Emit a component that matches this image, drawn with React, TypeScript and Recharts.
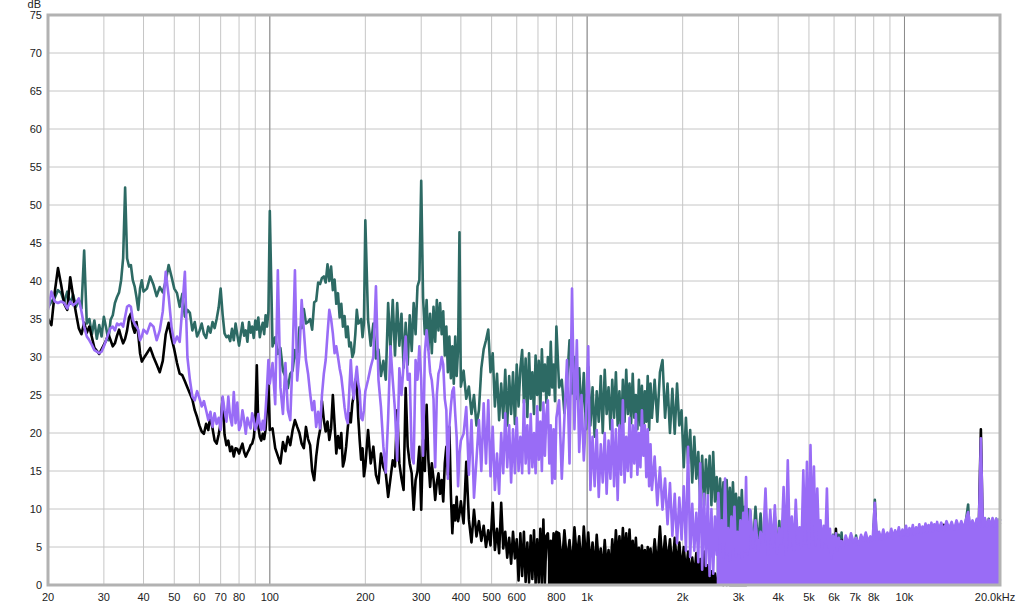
import {
  Area,
  CartesianGrid,
  ComposedChart,
  Line,
  ReferenceArea,
  ReferenceLine,
  XAxis,
  YAxis,
} from "recharts";

// frequency bins (Hz), one row per bin
const freqs = [
  // 20-40
  20, 20.5, 21, 21.5, 22, 22.5, 23, 23.5, 24, 24.5,
  25, 25.5, 26, 26.5, 27, 27.5, 28, 28.5, 29, 29.5,
  30, 30.5, 31, 31.5, 32, 32.5, 33, 33.5, 34, 34.5,
  35, 35.5, 36, 36.5, 37, 37.5, 38, 38.5, 39, 39.5,
  40,
  // 41-100
  41, 42, 43, 44, 45, 46, 47, 48, 49, 50,
  51, 52, 53, 54, 55, 56, 57, 58, 59, 60,
  61, 62, 63, 64, 65, 66, 67, 68, 69, 70,
  71, 72, 73, 74, 75, 76, 77, 78, 79, 80,
  81, 82, 83, 84, 85, 86, 87, 88, 89, 90,
  91, 92, 93, 94, 95, 96, 97, 98, 99, 100,
  // 102-200
  102, 104, 106, 108, 110, 112, 114, 116, 118, 120,
  122, 124, 126, 128, 130, 132, 134, 136, 138, 140,
  142, 144, 146, 148, 150, 152, 154, 156, 158, 160,
  162, 164, 166, 168, 170, 172, 174, 176, 178, 180,
  182, 184, 186, 188, 190, 192, 194, 196, 198, 200,
  // 204-400
  204, 208, 212, 216, 220, 224, 228, 232, 236, 240,
  244, 248, 252, 256, 260, 264, 268, 272, 276, 280,
  284, 288, 292, 296, 300, 304, 308, 312, 316, 320,
  324, 328, 332, 336, 340, 344, 348, 352, 356, 360,
  364, 368, 372, 376, 380, 384, 388, 392, 396, 400,
  // 408-800
  408, 416, 424, 432, 440, 448, 456, 464, 472, 480,
  488, 496, 504, 512, 520, 528, 536, 544, 552, 560,
  568, 576, 584, 592, 600, 608, 616, 624, 632, 640,
  648, 656, 664, 672, 680, 688, 696, 704, 712, 720,
  728, 736, 744, 752, 760, 768, 776, 784, 792, 800,
  // 816-1600
  816, 832, 848, 864, 880, 896, 912, 928, 944, 960,
  976, 992, 1008, 1024, 1040, 1056, 1072, 1088, 1104, 1120,
  1136, 1152, 1168, 1184, 1200, 1216, 1232, 1248, 1264, 1280,
  1296, 1312, 1328, 1344, 1360, 1376, 1392, 1408, 1424, 1440,
  1456, 1472, 1488, 1504, 1520, 1536, 1552, 1568, 1584, 1600,
  // 1632-3200
  1632, 1664, 1696, 1728, 1760, 1792, 1824, 1856, 1888, 1920,
  1952, 1984, 2016, 2048, 2080, 2112, 2144, 2176, 2208, 2240,
  2272, 2304, 2336, 2368, 2400, 2432, 2464, 2496, 2528, 2560,
  2592, 2624, 2656, 2688, 2720, 2752, 2784, 2816, 2848, 2880,
  2912, 2944, 2976, 3008, 3040, 3072, 3104, 3136, 3168, 3200,
  // 3264-6400
  3264, 3328, 3392, 3456, 3520, 3584, 3648, 3712, 3776, 3840,
  3904, 3968, 4032, 4096, 4160, 4224, 4288, 4352, 4416, 4480,
  4544, 4608, 4672, 4736, 4800, 4864, 4928, 4992, 5056, 5120,
  5184, 5248, 5312, 5376, 5440, 5504, 5568, 5632, 5696, 5760,
  5824, 5888, 5952, 6016, 6080, 6144, 6208, 6272, 6336, 6400,
  // 6528-12800
  6528, 6656, 6784, 6912, 7040, 7168, 7296, 7424, 7552, 7680,
  7808, 7936, 8064, 8192, 8320, 8448, 8576, 8704, 8832, 8960,
  9088, 9216, 9344, 9472, 9600, 9728, 9856, 9984, 10112, 10240,
  10368, 10496, 10624, 10752, 10880, 11008, 11136, 11264, 11392, 11520,
  11648, 11776, 11904, 12032, 12160, 12288, 12416, 12544, 12672, 12800,
  // 13056-20000
  13056, 13312, 13568, 13824, 14080, 14336, 14592, 14848, 15104, 15360,
  15616, 15872, 16128, 16384, 16640, 16896, 17152, 17408, 17664, 17920,
  18176, 18432, 18688, 18944, 19200, 19456, 19712, 19968, 20000,
];

// dB, teal trace
const tealDb = [
  36.5, 37.3, 37.8, 38.8, 38.4, 37.2, 38.6, 37.0, 38.2, 36.6,
  37.5, 36.4, 44.0, 34.4, 35.0, 33.0, 34.8, 32.4, 34.2, 32.7,
  35.3, 33.8, 32.2, 34.9, 35.5, 37.1, 37.9, 38.5, 40.1, 43.0,
  52.3, 43.0, 41.9, 42.1, 40.1, 39.3, 37.9, 36.2, 39.0, 40.1,
  38.6,
  39.0, 40.6, 39.5, 38.0, 39.2, 38.5, 40.0, 42.1, 40.6, 39.0,
  38.4, 36.6, 38.3, 35.3, 36.2, 35.8, 33.5, 34.6, 32.7, 33.4,
  34.4, 33.0, 32.5, 34.0, 33.2, 34.6, 33.8, 35.0, 36.5, 39.0,
  35.6, 33.1, 32.6, 32.8, 32.1, 33.7, 32.2, 34.4, 32.9, 31.5,
  33.0, 34.5, 32.8, 33.5, 32.0, 34.6, 33.2, 34.0, 32.5, 34.8,
  33.6, 35.2, 32.6, 33.8, 34.5, 33.0, 35.5, 34.0, 36.0, 49.2,
  31.4, 32.6, 30.4, 31.2, 28.2, 27.4, 25.9, 27.8, 28.2, 30.9,
  29.6, 33.9, 33.8, 36.3, 34.4, 34.6, 35.0, 33.6, 37.2, 37.4,
  39.8, 39.6, 40.4, 40.6, 39.8, 42.2, 40.0, 41.9, 38.8, 40.2,
  37.0, 38.4, 35.2, 37.0, 34.0, 35.4, 32.6, 34.0, 31.4, 31.9,
  30.0, 30.6, 33.0, 36.2, 34.4, 34.6, 35.0, 32.6, 34.5, 48.0,
  34.9, 31.5, 34.4, 29.8, 31.0, 27.5, 29.5, 27.0, 37.1, 31.0,
  37.5, 30.2, 37.1, 31.5, 35.7, 28.6, 34.5, 29.0, 35.5, 30.8,
  37.1, 33.0, 39.3, 40.1, 53.2, 37.9, 33.0, 37.5, 31.0, 35.7,
  30.5, 36.6, 32.0, 37.5, 33.5, 37.1, 33.0, 36.0, 30.2, 34.0,
  28.0, 32.7, 27.2, 31.4, 26.5, 32.7, 27.5, 31.0, 46.4, 26.1,
  28.2, 24.5, 26.1, 22.5, 25.0, 21.0, 23.0, 28.5, 31.0, 32.2,
  33.6, 28.0, 30.5, 23.5, 27.8, 21.7, 26.5, 22.0, 28.3, 21.0,
  27.5, 22.5, 28.0, 21.2, 29.0, 23.5, 28.5, 30.9, 24.0, 29.8,
  22.1, 30.5, 24.5, 28.0, 22.5, 30.2, 25.0, 29.5, 23.0, 31.0,
  25.5, 29.0, 24.0, 30.0, 25.0, 32.0, 26.0, 29.0, 24.2, 34.0,
  26.0, 27.0, 22.6, 26.5, 32.2, 25.2, 30.0, 24.5, 28.5, 22.0,
  27.9, 20.5, 28.7, 21.0, 26.0, 19.5, 25.5, 21.5, 27.5, 20.0,
  28.3, 22.5, 26.0, 20.5, 27.0, 22.0, 28.0, 21.0, 25.5, 19.5,
  27.0, 21.5, 28.3, 22.5, 26.5, 21.3, 27.8, 22.0, 25.0, 20.5,
  27.0, 21.0, 26.2, 19.6, 25.5, 21.5, 27.5, 20.4, 26.5, 22.0,
  27.0, 21.5, 28.0, 29.6, 22.0, 26.5, 20.0, 25.8, 19.9, 26.5,
  21.0, 23.0, 15.5, 22.0, 16.0, 20.4, 13.5, 19.5, 14.0, 17.5,
  11.0, 17.0, 10.5, 16.5, 12.0, 17.0, 10.5, 17.5, 11.0, 14.2,
  9.5, 14.0, 8.5, 13.5, 9.0, 13.8, 8.0, 12.8, 7.6, 13.5,
  8.5, 12.0, 7.0, 11.5, 8.0, 12.5, 7.6, 10.3, 7.0, 10.0,
  9.8, 4.5, 10.3, 5.0, 9.4, 4.0, 10.0, 4.6, 8.8, 3.8,
  9.0, 4.2, 8.4, 3.5, 7.8, 3.2, 7.5, 3.6, 7.2, 3.0,
  6.8, 3.4, 6.5, 2.8, 6.6, 3.2, 6.2, 2.6, 6.4, 3.0,
  6.0, 2.8, 6.3, 3.1, 6.1, 2.9, 6.4, 3.3, 6.2, 3.0,
  6.5, 3.4, 6.6, 3.1, 6.8, 3.5, 6.6, 3.2, 6.9, 3.6,
  6.0, 4.0, 6.2, 4.2, 6.5, 4.1, 6.3, 4.3, 6.4, 4.4,
  6.2, 4.5, 11.2, 4.6, 6.6, 4.7, 6.8, 4.8, 6.5, 4.9,
  6.9, 5.0, 6.8, 5.1, 7.1, 5.2, 6.9, 5.3, 7.3, 5.4,
  7.1, 5.5, 7.5, 5.6, 7.2, 5.7, 7.6, 5.8, 7.3, 5.9,
  7.7, 6.0, 7.5, 6.1, 7.8, 6.2, 7.6, 6.3, 8.0, 6.4,
  8.0, 4.8, 8.2, 5.0, 8.1, 4.9, 8.3, 5.1, 8.2, 5.0,
  8.4, 10.6, 5.2, 8.3, 5.1, 8.5, 5.3, 9.0, 5.2, 8.6,
  5.4, 8.7, 5.3, 8.6, 5.5, 8.7, 5.4, 8.7, 8.5,
];

// dB, black trace
const blackDb = [
  35.0, 34.2, 38.5, 41.7, 39.5, 37.0, 36.2, 40.5, 38.0, 35.8,
  33.8, 33.0, 34.5, 33.2, 34.0, 32.6, 31.2, 30.8, 30.4, 31.0,
  31.6, 32.2, 33.0, 32.2, 31.4, 31.8, 32.8, 33.6, 32.6, 31.8,
  32.4, 33.5, 35.2, 35.7, 34.0, 33.2, 34.6, 33.0, 30.5, 29.4,
  29.8,
  30.5, 31.2, 30.0, 29.0, 28.0, 29.5, 33.0, 34.5, 32.5, 31.0,
  29.2, 27.8, 27.6, 26.8, 26.0, 25.2, 24.4, 23.0, 22.1, 21.0,
  20.2, 19.9, 21.2, 20.4, 22.4, 20.6, 19.0, 18.6, 19.8, 21.3,
  24.6, 19.8, 18.4, 19.0, 17.6, 18.2, 16.9, 18.0, 17.9, 17.3,
  18.0, 18.6, 17.5, 16.9, 17.4, 17.8, 18.4, 18.6, 19.4, 21.5,
  28.9, 20.8, 19.5, 19.0, 19.9, 19.2, 20.5, 23.5, 26.5, 20.4,
  20.6, 18.0, 17.0, 16.0, 18.8, 17.6, 19.5, 18.4, 20.4, 21.7,
  20.8, 20.0, 18.6, 18.0, 20.8, 19.2, 18.4, 15.0, 13.8, 16.9,
  19.0, 20.4, 24.2, 21.7, 20.2, 21.5, 19.1, 20.6, 25.0, 21.2,
  17.3, 19.6, 18.0, 20.0, 15.6, 16.5, 18.2, 20.6, 22.6, 21.4,
  23.9, 25.0, 27.0, 26.4, 22.0, 19.0, 16.5, 18.0, 14.3, 15.6,
  20.4, 16.0, 18.2, 14.5, 13.4, 17.3, 15.5, 14.7, 11.6, 14.0,
  16.4, 15.6, 23.0, 16.0, 14.0, 12.5, 25.9, 18.2, 16.0, 14.7,
  9.9, 13.8, 15.0, 18.2, 9.9, 19.1, 15.0, 23.7, 16.5, 12.9,
  16.0, 14.0, 11.2, 13.5, 14.7, 12.0, 13.8, 11.0, 16.0, 18.2,
  14.5, 20.8, 12.0, 6.8, 10.5, 8.5, 11.6, 8.4, 9.4, 11.0,
  8.1, 16.2, 8.6, 5.6, 9.9, 6.4, 8.4, 5.8, 7.8, 5.0,
  7.2, 5.2, 10.8, 4.6, 7.4, 4.2, 10.8, 4.8, 7.0, 3.6,
  6.2, 2.8, 7.0, 3.5, 6.0, 0.6, 6.8, 1.2, 7.0, 0.4,
  5.6, 0.3, 6.5, 0.8, 7.2, 0.2, 6.0, 0.3, 7.4, 0.1,
  8.6, 0.2, 6.5, 6.8, 3.0, 5.8, 2.5, 6.8, 3.2, 7.0,
  6.8, 2.5, 7.2, 3.0, 5.9, 2.2, 7.6, 3.5, 6.4, 2.0,
  7.7, 3.0, 6.9, 2.4, 5.6, 1.8, 6.6, 2.6, 4.8, 1.5,
  5.9, 2.0, 4.6, 1.6, 6.0, 2.4, 7.2, 3.0, 6.4, 2.6,
  7.5, 3.4, 6.8, 2.8, 7.3, 3.0, 5.8, 2.2, 6.2, 2.5,
  4.9, 1.8, 5.2, 2.0, 4.6, 1.5, 5.0, 2.0, 4.8, 1.6,
  6.0, 2.2, 7.7, 2.5, 6.4, 2.8, 6.0, 2.0, 6.2, 2.5,
  5.6, 1.8, 5.0, 1.5, 4.4, 1.2, 3.6, 1.0, 4.2, 1.2,
  3.4, 0.8, 4.4, 0.9, 2.6, 0.5, 1.8, 0.4, 1.5, 0.2,
  1.0, 0.1, 0.6, 0, 0.4, 0, 0.2, 0, 0, 0,
  0, 0, 0, 0, 0, 0, 0, 0, 0, 0.5,
  1.5, 0.5, 2.0, 0.8, 1.2, 0.4, 2.2, 0.6, 1.8, 0.5,
  1.4, 0.3, 2.5, 0.8, 1.6, 0.6, 2.8, 1.0, 2.2, 0.7,
  3.0, 1.2, 3.5, 1.5, 3.2, 1.4, 4.0, 1.8, 3.8, 2.0,
  4.2, 2.2, 4.5, 2.5, 4.8, 2.6, 5.0, 2.8, 5.2, 3.0,
  5.5, 3.2, 5.8, 3.4, 7.4, 3.6, 5.6, 3.5, 5.9, 3.8,
  6.0, 4.0, 6.2, 4.2, 5.8, 4.1, 6.1, 4.3, 6.3, 4.4,
  6.0, 4.2, 9.5, 4.5, 6.4, 4.6, 6.2, 4.4, 6.5, 4.7,
  6.3, 4.5, 6.6, 4.8, 6.4, 4.6, 6.7, 4.9, 6.5, 4.7,
  6.8, 5.0, 6.6, 4.8, 6.9, 5.1, 6.7, 4.9, 7.0, 5.2,
  6.8, 5.0, 7.1, 5.3, 6.9, 5.1, 7.2, 5.4, 7.0, 5.2,
  7.2, 7.9, 7.3, 5.5, 7.4, 5.6, 7.5, 5.7, 7.6, 5.8,
  7.7, 5.9, 7.8, 6.0, 7.9, 6.1, 7.8, 20.5, 6.2, 8.0,
  6.3, 8.1, 6.4, 8.0, 6.5, 8.2, 6.6, 8.1, 8.0,
];

// dB, purple trace
const purpleDb = [
  36.2, 38.6, 37.3, 37.1, 37.3, 37.1, 36.4, 37.3, 36.8, 37.1,
  37.7, 36.0, 34.0, 32.7, 32.2, 31.6, 30.9, 30.7, 30.5, 30.7,
  31.4, 32.2, 33.1, 33.8, 34.0, 33.5, 34.4, 34.2, 34.4, 34.0,
  35.3, 36.6, 36.8, 36.6, 34.9, 34.4, 34.0, 33.6, 32.2, 32.7,
  33.6,
  33.1, 34.4, 34.0, 32.2, 33.5, 36.0, 41.2, 38.0, 34.0, 31.8,
  32.7, 32.0, 36.5, 41.2, 30.0, 27.0, 24.8, 24.3, 25.5, 24.6,
  23.5, 24.2, 23.0, 21.7, 22.8, 20.8, 22.6, 21.2, 22.0, 20.4,
  24.8, 23.0, 21.5, 24.8, 22.1, 21.0, 25.4, 21.3, 24.0, 20.4,
  21.0, 23.0, 21.7, 19.9, 22.0, 21.2, 20.6, 22.6, 21.8, 20.4,
  21.0, 22.5, 21.2, 20.4, 21.6, 20.4, 23.0, 26.0, 29.6, 26.5,
  29.2, 23.8, 41.4, 26.0, 22.5, 29.2, 23.0, 21.7, 30.0, 41.4,
  26.9, 30.5, 37.5, 33.5, 29.6, 27.8, 25.2, 23.0, 24.2, 20.8,
  22.8, 20.6, 25.0, 27.8, 29.6, 33.0, 36.2, 35.0, 33.1, 30.5,
  31.4, 30.0, 28.5, 27.4, 25.5, 23.4, 22.0, 21.3, 25.5, 29.6,
  26.0, 24.5, 27.0, 28.7, 26.5, 25.5, 22.0, 21.7, 23.0, 25.5,
  27.0, 28.7, 30.0, 39.3, 27.0, 23.4, 18.2, 14.8, 22.0, 31.4,
  27.0, 23.0, 16.4, 28.5, 25.0, 29.0, 32.7, 27.0, 27.8, 17.0,
  16.0, 29.6, 27.0, 31.4, 27.0, 17.0, 30.5, 33.5, 31.0, 28.0,
  26.9, 24.5, 15.5, 25.0, 27.8, 28.5, 30.0, 29.0, 24.5, 23.0,
  14.0, 20.8, 23.5, 25.5, 26.0, 22.5, 19.5, 13.0, 17.3, 19.0,
  19.9, 23.4, 14.5, 21.7, 11.5, 16.5, 21.7, 15.0, 23.9, 16.0,
  24.3, 14.3, 20.8, 12.5, 17.3, 12.0, 20.0, 14.7, 22.6, 15.5,
  21.0, 13.5, 20.5, 14.7, 22.0, 15.0, 19.5, 14.7, 24.3, 16.0,
  21.0, 14.7, 22.5, 15.5, 20.0, 14.7, 23.5, 16.5, 21.5, 15.0,
  24.0, 17.0, 22.5, 24.3, 16.0, 21.0, 13.4, 20.5, 14.0, 22.0,
  24.3, 14.0, 22.0, 29.6, 16.0, 39.0, 20.5, 32.2, 17.5, 25.0,
  16.4, 22.1, 31.4, 12.5, 19.5, 13.0, 20.4, 11.6, 18.5, 13.5,
  20.0, 12.0, 19.0, 14.0, 21.7, 13.0, 20.5, 11.2, 21.0, 14.5,
  24.3, 13.5, 19.5, 15.0, 22.0, 14.2, 21.0, 16.0, 22.5, 14.5,
  20.0, 15.5, 23.0, 17.0, 21.0, 14.2, 20.5, 13.0, 18.5, 12.5,
  16.9, 10.5, 15.5, 9.9, 14.0, 8.0, 13.4, 6.5, 12.0, 5.5,
  11.5, 6.0, 13.0, 4.5, 18.2, 3.7, 10.7, 4.5, 9.5, 3.0,
  16.0, 2.0, 12.0, 2.5, 11.8, 1.2, 10.0, 1.5, 9.0, 4.0,
  12.1, 5.5, 8.5, 3.5, 14.0, 4.0, 7.5, 3.2, 9.0, 4.5,
  10.3, 3.8, 7.0, 4.2, 8.5, 3.5, 9.5, 4.4, 14.2, 4.0,
  9.9, 5.0, 8.5, 4.5, 7.0, 5.5, 12.7, 4.0, 9.9, 5.0,
  10.5, 4.2, 7.5, 5.5, 12.9, 4.0, 16.4, 5.0, 9.0, 4.5,
  11.2, 5.5, 7.6, 4.8, 15.1, 5.5, 16.2, 5.0, 18.4, 6.0,
  15.6, 5.2, 12.7, 6.0, 8.5, 4.8, 7.8, 5.5, 12.7, 5.0,
  7.4, 3.5, 6.5, 5.0, 6.8, 4.5, 6.2, 5.2, 5.8, 4.8,
  6.5, 5.4, 6.8, 5.6, 6.2, 5.3, 6.6, 5.8, 6.9, 5.7,
  6.4, 5.9, 10.8, 5.9, 7.0, 6.0, 7.3, 6.1, 6.9, 6.3,
  7.4, 6.2, 7.2, 6.4, 7.6, 6.3, 7.3, 6.6, 7.8, 6.5,
  7.5, 6.7, 7.9, 6.6, 7.6, 6.9, 8.0, 6.8, 7.7, 7.0,
  8.1, 6.9, 7.9, 7.1, 8.2, 7.0, 8.0, 7.3, 8.3, 7.2,
  8.2, 7.2, 8.4, 7.4, 8.3, 7.3, 8.5, 7.5, 8.4, 7.4,
  8.6, 9.6, 7.6, 8.5, 7.5, 8.7, 7.6, 19.3, 7.7, 8.8,
  7.7, 8.6, 7.8, 8.8, 7.7, 8.7, 7.8, 8.6, 8.4,
];

const xTicks = [
  20, 30, 40, 50, 60, 70, 80, 90, 100, 200, 300, 400, 500, 600, 700, 800, 900,
  1000, 2000, 3000, 4000, 5000, 6000, 7000, 8000, 9000, 10000, 20000,
];
const xLabels: Record<number, string> = {
  20: "20", 30: "30", 40: "40", 50: "50", 60: "60", 70: "70", 80: "80",
  100: "100", 200: "200", 300: "300", 400: "400", 500: "500", 600: "600",
  800: "800", 1000: "1k", 2000: "2k", 3000: "3k", 4000: "4k", 5000: "5k",
  6000: "6k", 7000: "7k", 8000: "8k", 10000: "10k", 20000: "20.0kHz",
};
const yTicks = [0, 5, 10, 15, 20, 25, 30, 35, 40, 45, 50, 55, 60, 65, 70, 75];
const decades = [100, 1000, 10000];

const TEAL = "#2d6a64";
const PURPLE = "#996cf6";
const BLACK = "#000000";

const num = (v: number | undefined) => (v === undefined ? null : v);

const rows = freqs.map((f, i) => ({
  f,
  teal: num(tealDb[i]),
  black: num(blackDb[i]),
  purple: num(purpleDb[i]),
  // where a trace runs down to the floor the noise reads as a solid block
  tealFloor: f >= 2560 ? num(tealDb[i]) : null,
  blackFloor: f >= 752 && f <= 2816 ? num(blackDb[i]) : null,
  purpleFloor: f >= 2560 ? num(purpleDb[i]) : null,
}));

const FreqTick = (props: any) => {
  const { x, y, payload } = props;
  const label = xLabels[payload.value];
  if (!label) return <g />;
  const dx = payload.value === 20000 ? -5 : 0;
  return (
    <text x={x + dx} y={y} dy="0.71em" textAnchor="middle" fontSize={11} fill="#222">
      {label}
    </text>
  );
};

export default function App() {
  return (
    <div
      style={{
        position: "absolute",
        left: 0,
        top: 0,
        width: 1024,
        height: 606,
        background: "#fff",
        fontFamily: '"Liberation Sans", Arial, sans-serif',
      }}
    >
      <div
        style={{
          position: "absolute",
          left: 0,
          top: 0,
          width: 41,
          textAlign: "right",
          fontSize: 11,
          lineHeight: "9px",
          color: "#222",
        }}
      >
        dB
      </div>
      <ComposedChart
        width={1024}
        height={606}
        data={rows}
        margin={{ top: 15, right: 24, left: 0, bottom: 0 }}
      >
        <CartesianGrid stroke="#c6c6c6" strokeWidth={1} />
        <XAxis
          dataKey="f"
          type="number"
          scale="log"
          domain={[20, 20000]}
          ticks={xTicks}
          interval={0}
          tick={<FreqTick />}
          axisLine={false}
          tickLine={false}
          height={21}
        />
        <YAxis
          type="number"
          domain={[0, 75]}
          ticks={yTicks}
          interval={0}
          width={48}
          axisLine={false}
          tickLine={false}
          tickMargin={0}
          tick={{ fontSize: 11, fill: "#222" }}
        />
        {decades.map((d) => (
          <ReferenceLine key={d} x={d} stroke="#8a8a8a" strokeWidth={1} zIndex={-50} />
        ))}
        <Line
          dataKey="teal"
          type="linear"
          stroke={TEAL}
          strokeWidth={2.6}
          strokeLinejoin="round"
          dot={false}
          activeDot={false}
          isAnimationActive={false}
          zIndex={100}
        />
        <Area
          dataKey="tealFloor"
          type="linear"
          stroke="none"
          fill={TEAL}
          fillOpacity={1}
          dot={false}
          activeDot={false}
          isAnimationActive={false}
          zIndex={101}
        />
        <Area
          dataKey="blackFloor"
          type="linear"
          stroke="none"
          fill={BLACK}
          fillOpacity={1}
          dot={false}
          activeDot={false}
          isAnimationActive={false}
          zIndex={102}
        />
        <Line
          dataKey="black"
          type="linear"
          stroke={BLACK}
          strokeWidth={2.6}
          strokeLinejoin="round"
          dot={false}
          activeDot={false}
          isAnimationActive={false}
          zIndex={103}
        />
        <Area
          dataKey="purpleFloor"
          type="linear"
          stroke="none"
          fill={PURPLE}
          fillOpacity={1}
          dot={false}
          activeDot={false}
          isAnimationActive={false}
          zIndex={104}
        />
        <Line
          dataKey="purple"
          type="linear"
          stroke={PURPLE}
          strokeWidth={2.6}
          strokeLinejoin="round"
          dot={false}
          activeDot={false}
          isAnimationActive={false}
          zIndex={105}
        />
        <ReferenceArea
          x1={20}
          x2={20000}
          y1={0}
          y2={75}
          fill="none"
          stroke="#b2b2b2"
          strokeWidth={3}
          ifOverflow="visible"
          zIndex={200}
        />
      </ComposedChart>
    </div>
  );
}
